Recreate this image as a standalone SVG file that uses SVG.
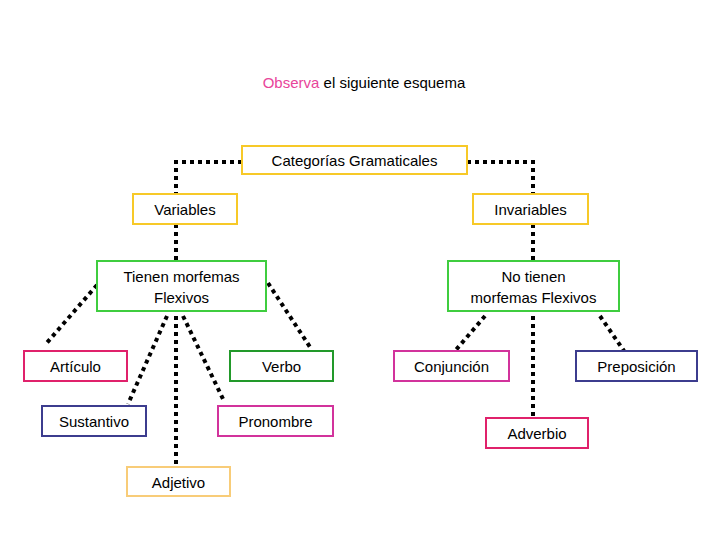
<svg xmlns="http://www.w3.org/2000/svg" width="728" height="546" viewBox="0 0 728 546">
<style>
text{font-family:"Liberation Sans",Arial,sans-serif;font-size:15px;fill:#000;text-anchor:middle}
rect{fill:#fff;stroke-width:2}
.y{stroke:#f7c928}.g{stroke:#3fcd3f}.p{stroke:#e0216b}.n{stroke:#3c3c8e}.dg{stroke:#22992a}.m{stroke:#d2339c}.o{stroke:#f8cc78}
#conn path{fill:none;stroke:#000;stroke-width:4;stroke-dasharray:4 4}
</style>
<rect width="728" height="546" fill="#fff" stroke="none"/>
<text x="364" y="88"><tspan fill="#e8449a">Observa</tspan> el siguiente esquema</text>
<g id="conn">
<path d="M242 162H176V194"/><path d="M467 162H533V194"/>
<path d="M176 224V261"/><path d="M533 224V261"/>
<path d="M97 285L45 345"/><path d="M167 316L128 404"/><path d="M176 316V465"/><path d="M183 316L224 401"/><path d="M268 283L310 347"/>
<path d="M485 316L455 351"/><path d="M533 316V418"/><path d="M600 316L624 351"/>
</g>
<g id="n-cat"><rect class="y" x="242" y="146" width="225" height="28"/><text x="354.5" y="166">Categorías Gramaticales</text></g>
<g id="n-var"><rect class="y" x="133" y="194" width="104" height="30"/><text x="185" y="215">Variables</text></g>
<g id="n-inv"><rect class="y" x="473" y="194" width="115" height="30"/><text x="530.5" y="215">Invariables</text></g>
<g id="n-tien"><rect class="g" x="97" y="261" width="169" height="50"/><text x="181.5" y="282">Tienen morfemas</text><text x="181.5" y="303">Flexivos</text></g>
<g id="n-notien"><rect class="g" x="448" y="261" width="171" height="50"/><text x="533.5" y="282">No tienen</text><text x="533.5" y="303">morfemas Flexivos</text></g>
<g id="n-art"><rect class="p" x="24" y="351" width="103" height="30"/><text x="75.5" y="372">Artículo</text></g>
<g id="n-sus"><rect class="n" x="42" y="406" width="104" height="30"/><text x="94" y="427">Sustantivo</text></g>
<g id="n-adj"><rect class="o" x="127" y="467" width="103" height="29"/><text x="178.5" y="488">Adjetivo</text></g>
<g id="n-ver"><rect class="dg" x="230" y="351" width="103" height="30"/><text x="281.5" y="372">Verbo</text></g>
<g id="n-pro"><rect class="m" x="218" y="406" width="115" height="30"/><text x="275.5" y="427">Pronombre</text></g>
<g id="n-con"><rect class="m" x="394" y="351" width="115" height="30"/><text x="451.5" y="372">Conjunción</text></g>
<g id="n-pre"><rect class="n" x="576" y="351" width="121" height="30"/><text x="636.5" y="372">Preposición</text></g>
<g id="n-adv"><rect class="p" x="486" y="418" width="102" height="30"/><text x="537" y="439">Adverbio</text></g>
</svg>
